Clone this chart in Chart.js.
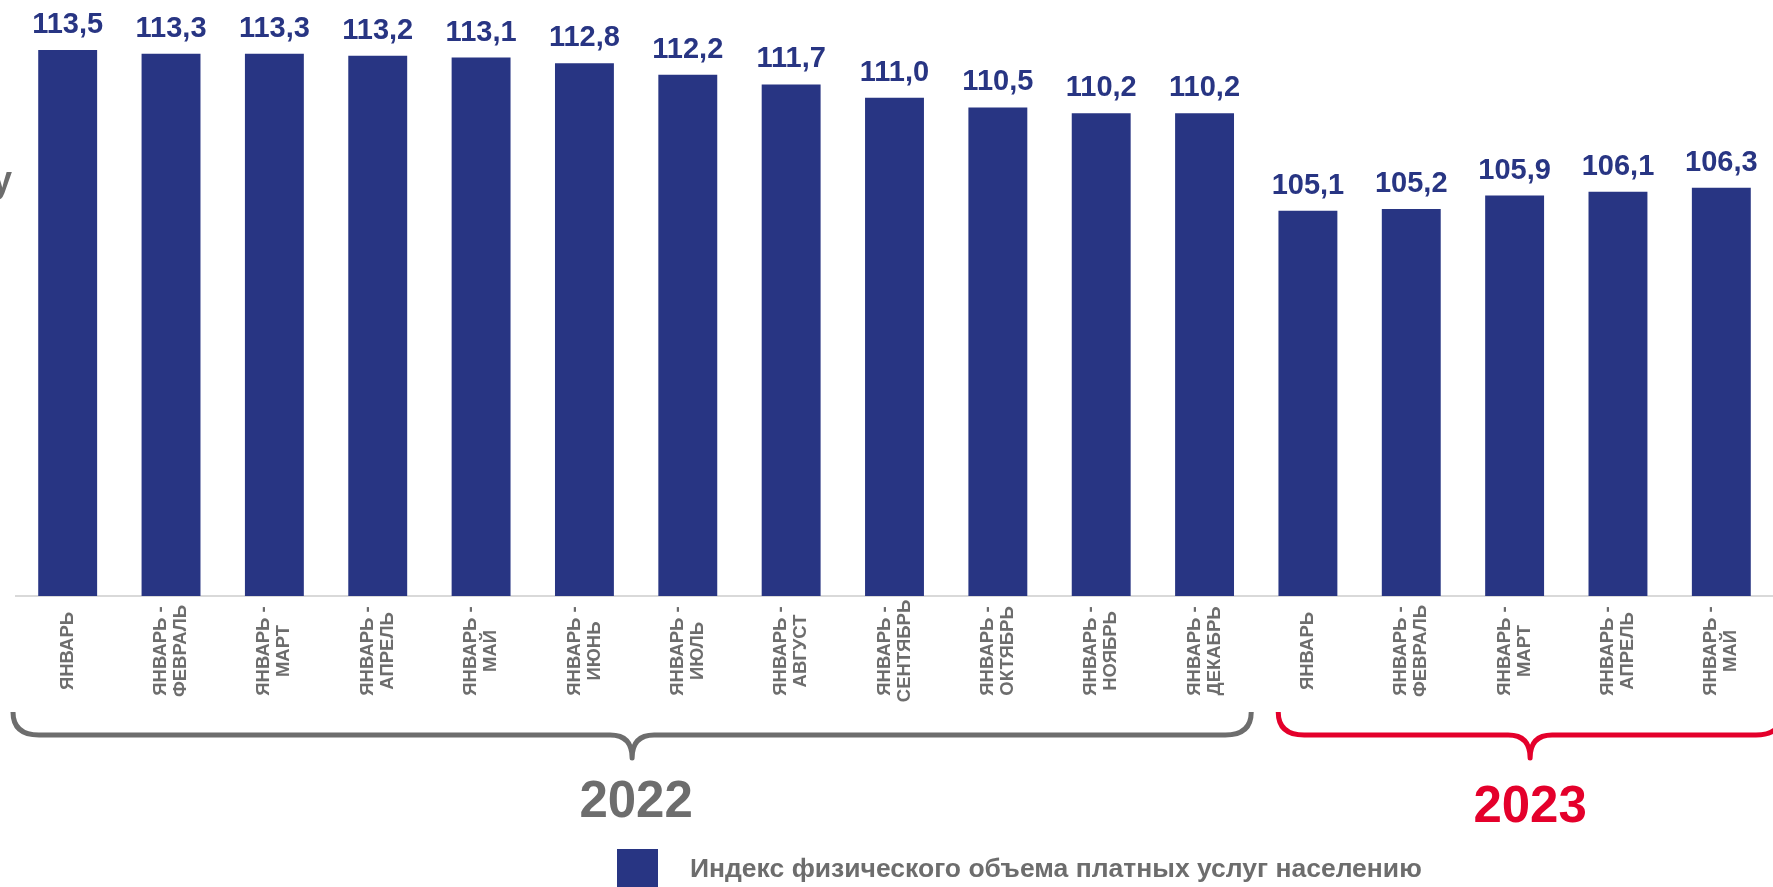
<!DOCTYPE html>
<html>
<head>
<meta charset="utf-8">
<script src="https://cdn.jsdelivr.net/npm/chart.js@4/dist/chart.umd.min.js"></script>
<style>
  html, body { margin: 0; padding: 0; background: #ffffff; }
  #wrap { width: 1773px; height: 887px; position: relative; overflow: hidden; }
  canvas { display: block; }
</style>
</head>
<body>
<div id="wrap"><canvas id="chart" width="1773" height="887"></canvas></div>
<script>
// Periods (cumulative from January), two lines per label where needed
const categories = [
  ['ЯНВАРЬ'],
  ['ЯНВАРЬ -', 'ФЕВРАЛЬ'],
  ['ЯНВАРЬ -', 'МАРТ'],
  ['ЯНВАРЬ -', 'АПРЕЛЬ'],
  ['ЯНВАРЬ -', 'МАЙ'],
  ['ЯНВАРЬ -', 'ИЮНЬ'],
  ['ЯНВАРЬ -', 'ИЮЛЬ'],
  ['ЯНВАРЬ -', 'АВГУСТ'],
  ['ЯНВАРЬ -', 'СЕНТЯБРЬ'],
  ['ЯНВАРЬ -', 'ОКТЯБРЬ'],
  ['ЯНВАРЬ -', 'НОЯБРЬ'],
  ['ЯНВАРЬ -', 'ДЕКАБРЬ'],
  ['ЯНВАРЬ'],
  ['ЯНВАРЬ -', 'ФЕВРАЛЬ'],
  ['ЯНВАРЬ -', 'МАРТ'],
  ['ЯНВАРЬ -', 'АПРЕЛЬ'],
  ['ЯНВАРЬ -', 'МАЙ']
];

// Index values, %
const values = [113.5, 113.3, 113.3, 113.2, 113.1, 112.8, 112.2, 111.7, 111.0, 110.5, 110.2, 110.2,
                105.1, 105.2, 105.9, 106.1, 106.3];

const seriesName = 'Индекс физического объема платных услуг населению';

// Year groups: label, first and last category index
const yearLabels = ['2022', '2023'];
const yearFirst = [0, 12];
const yearLast = [11, 16];

const BAR_COLOR = '#283583';
const GRAY = '#6d6d6d';
const RED = '#e4002b';
const FONT = '"Liberation Sans", Arial, sans-serif';

function fmt(v) {
  return v.toFixed(1).replace('.', ',');
}

// Value labels above the bars
const valueLabels = {
  id: 'valueLabels',
  afterDatasetsDraw(chart) {
    const ctx = chart.ctx;
    const meta = chart.getDatasetMeta(0);
    ctx.save();
    ctx.fillStyle = BAR_COLOR;
    ctx.font = 'bold 29px ' + FONT;
    ctx.textAlign = 'center';
    ctx.textBaseline = 'alphabetic';
    meta.data.forEach((bar, i) => {
      ctx.fillText(fmt(chart.data.datasets[0].data[i]), bar.x, bar.y - 17);
    });
    ctx.restore();
  }
};

// Vertical category labels, year braces, year captions and legend
const decorations = {
  id: 'decorations',
  afterDraw(chart) {
    const ctx = chart.ctx;
    const xs = chart.scales.x;
    ctx.save();

    // category labels, rotated, lines centred
    ctx.fillStyle = GRAY;
    ctx.font = 'bold 18.5px ' + FONT;
    ctx.textAlign = 'center';
    ctx.textBaseline = 'middle';
    const lineH = 20;
    chart.data.labels.forEach((lines, i) => {
      const x = xs.getPixelForValue(i);
      ctx.save();
      ctx.translate(x, 651);
      ctx.rotate(-Math.PI / 2);
      lines.forEach((t, k) => {
        ctx.fillText(t, 0, (k - (lines.length - 1) / 2) * lineH);
      });
      ctx.restore();
    });

    // braces under each year
    const step = xs.getPixelForValue(1) - xs.getPixelForValue(0);
    const styles = [
      { color: GRAY, inL: -3, inR: 5, size: 51, base: 817 },
      { color: RED, inL: 22, inR: -9, size: 51, base: 822 }
    ];
    yearLabels.forEach((yl, g) => {
      const st = styles[g];
      const x0 = xs.getPixelForValue(yearFirst[g]) - step / 2 + st.inL;
      const x1 = xs.getPixelForValue(yearLast[g]) + step / 2 - st.inR;
      const mid = (x0 + x1) / 2;
      const yTop = 712, yLine = 735, yTip = 758, r = 26, rc = 22;
      ctx.strokeStyle = st.color;
      ctx.lineWidth = 5;
      ctx.lineCap = 'butt';
      ctx.lineJoin = 'round';
      ctx.beginPath();
      ctx.moveTo(x0, yTop);
      ctx.quadraticCurveTo(x0, yLine, x0 + r, yLine);
      ctx.lineTo(mid - rc, yLine);
      ctx.quadraticCurveTo(mid, yLine, mid, yTip);
      ctx.quadraticCurveTo(mid, yLine, mid + rc, yLine);
      ctx.lineTo(x1 - r, yLine);
      ctx.quadraticCurveTo(x1, yLine, x1, yTop);
      ctx.stroke();

      ctx.fillStyle = st.color;
      ctx.font = 'bold ' + st.size + 'px ' + FONT;
      ctx.textAlign = 'center';
      ctx.textBaseline = 'alphabetic';
      ctx.fillText(yl, mid + (g === 0 ? 4 : 0), st.base);
    });

    // legend
    ctx.fillStyle = chart.data.datasets[0].backgroundColor;
    ctx.fillRect(617, 849, 41, 41);
    ctx.fillStyle = GRAY;
    ctx.font = 'bold 26.5px ' + FONT;
    ctx.textAlign = 'left';
    ctx.textBaseline = 'alphabetic';
    ctx.fillText(chart.data.datasets[0].label, 690, 877);

    // left-side caption fragment
    ctx.font = 'bold 36px ' + FONT;
    ctx.textAlign = 'right';
    ctx.fillText('у', 12, 192);

    ctx.restore();
  }
};

new Chart(document.getElementById('chart'), {
  type: 'bar',
  data: {
    labels: categories,
    datasets: [{
      label: seriesName,
      data: values,
      backgroundColor: BAR_COLOR,
      borderWidth: 0,
      categoryPercentage: 1.0,
      barPercentage: 0.57
    }]
  },
  options: {
    responsive: false,
    animation: false,
    devicePixelRatio: 1,
    layout: { padding: { left: 16, right: -3, top: 2, bottom: 291 } },
    plugins: {
      legend: { display: false },
      tooltip: { enabled: false }
    },
    scales: {
      x: {
        grid: { display: false, drawTicks: false },
        border: { display: true, color: '#d9d9d9', width: 2 },
        ticks: { display: false }
      },
      y: {
        display: false,
        min: 85,
        max: 116
      }
    }
  },
  plugins: [valueLabels, decorations]
});
</script>
</body>
</html>
